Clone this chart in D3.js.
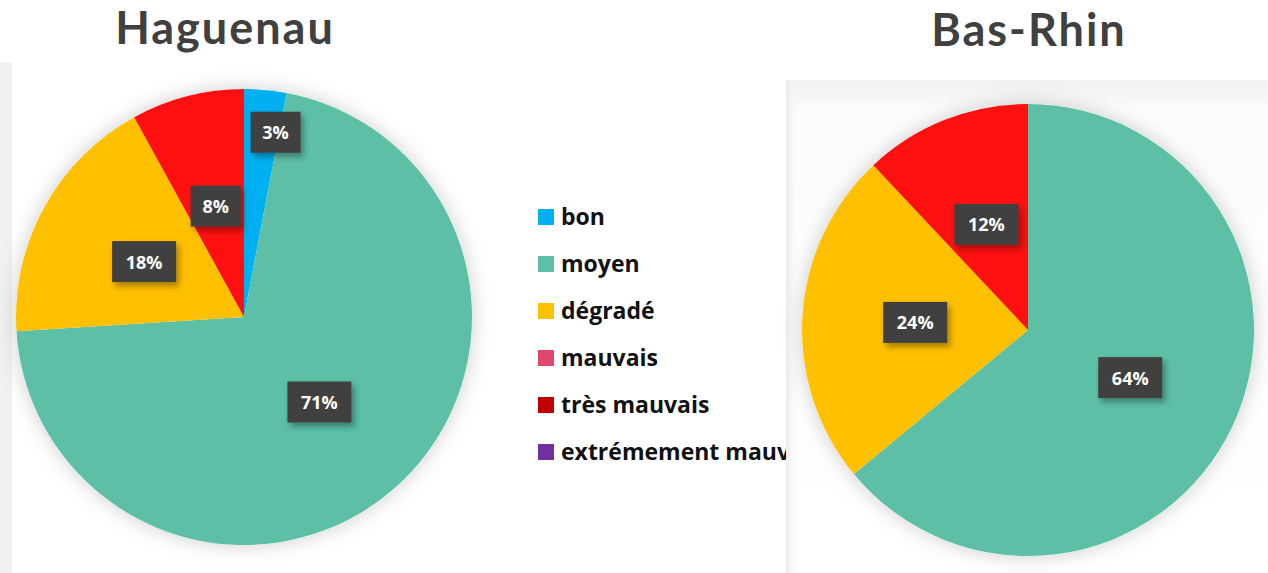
<!DOCTYPE html>
<html><head><meta charset="utf-8">
<script src="https://cdn.jsdelivr.net/npm/d3@7"></script>
<style>body{margin:0;background:#fff;overflow:hidden}svg{display:block}</style>
</head><body>
<script>
const categories = ["bon","moyen","dégradé","mauvais","très mauvais","extrémement mauvais"];
const legendColors = ["#00B0F0","#5CBFA6","#FFC000","#E0476A","#C00000","#7030A0"];
const sliceColors = ["#00B0F0","#5CBFA6","#FFC000","#E0476A","#FF1010","#7030A0"];
const haguenauValues = [3,71,18,0,8,0];
const basRhinValues = [0,64,24,0,12,0];
const titles = ["Haguenau","Bas-Rhin"];

const W=1268,H=573;
const svg=d3.select("body").append("svg").attr("width",W).attr("height",H);
const defs=svg.append("defs");
const f=defs.append("filter").attr("id","pshadow").attr("x","-20%").attr("y","-20%").attr("width","140%").attr("height","140%");
f.append("feDropShadow").attr("dx",0).attr("dy",0).attr("stdDeviation",10).attr("flood-color","#000").attr("flood-opacity",0.2);
const lf=defs.append("filter").attr("id","lshadow").attr("x","-30%").attr("y","-30%").attr("width","170%").attr("height","170%");
lf.append("feDropShadow").attr("dx",3).attr("dy",4).attr("stdDeviation",3).attr("flood-color","#000").attr("flood-opacity",0.35);
const bg=defs.append("linearGradient").attr("id","bgr").attr("x1",0).attr("x2",0).attr("y1",0).attr("y2",1);
bg.append("stop").attr("offset",0).attr("stop-color","#f0f0f0");
bg.append("stop").attr("offset",0.06).attr("stop-color","#fcfcfc");
bg.append("stop").attr("offset",1).attr("stop-color","#fff");
const bg2=defs.append("linearGradient").attr("id","bgl").attr("x1",0).attr("x2",1).attr("y1",0).attr("y2",0);
bg2.append("stop").attr("offset",0).attr("stop-color","#ebebeb");
bg2.append("stop").attr("offset",0.03).attr("stop-color","#fff").attr("stop-opacity",0);
svg.append("rect").attr("x",786).attr("y",80).attr("width",482).attr("height",493).attr("fill","url(#bgr)");
svg.append("rect").attr("x",786).attr("y",80).attr("width",482).attr("height",493).attr("fill","url(#bgl)");
svg.append("rect").attr("x",0).attr("y",62).attr("width",12).attr("height",511).attr("fill","#f1f1f1");

const pies=[
  {values:haguenauValues,cx:244,cy:317,r:228,title:titles[0],tx:225,ty:44},
  {values:basRhinValues,cx:1028,cy:330,r:226,title:titles[1],tx:1029,ty:46}
];
const pieGen=d3.pie().sort(null).value(d=>d.v);
pies.forEach(p=>{
  const data=categories.map((c,i)=>({c,i,v:p.values[i]}));
  const arcs=pieGen(data).filter(a=>a.data.v>0);
  const g=svg.append("g").attr("transform",`translate(${p.cx},${p.cy})`);
  const arc=d3.arc().innerRadius(0).outerRadius(p.r);
  g.append("circle").attr("r",p.r).attr("fill","#fff").attr("filter","url(#pshadow)");
  g.selectAll("path").data(arcs).join("path").attr("d",arc).attr("fill",d=>sliceColors[d.data.i]);
  const lab=g.selectAll("g.lab").data(arcs).join("g").attr("class","lab")
    .attr("transform",d=>{
      const small=(d.endAngle-d.startAngle)<0.25;
      const rr=p.r*(small?0.82:0.5);
      const a=small?(d.startAngle*0.1+d.endAngle*0.9):(d.startAngle+d.endAngle)/2;
      return `translate(${Math.sin(a)*rr},${-Math.cos(a)*rr})`;});
  lab.append("rect").attr("x",d=>String(d.data.v).length>1?-32:-25).attr("y",-21)
    .attr("width",d=>String(d.data.v).length>1?64:50).attr("height",41)
    .attr("fill","#404040").attr("filter","url(#lshadow)");
  lab.append("text").attr("text-anchor","middle").attr("dy","0.36em")
    .attr("font-family","Open Sans, sans-serif").attr("font-weight","bold").attr("font-size",18)
    .attr("fill","#fff").text(d=>d.data.v+"%");
  svg.append("text").attr("x",p.tx).attr("y",p.ty).attr("text-anchor","middle")
    .attr("font-family","Lato, sans-serif").attr("font-weight","bold").attr("font-size",45)
    .attr("letter-spacing",2).attr("fill","#404040").text(p.title);
});

const clip=defs.append("clipPath").attr("id","lc");
clip.append("rect").attr("x",520).attr("y",180).attr("width",266).attr("height",300);
const leg=svg.append("g").attr("clip-path","url(#lc)");
const ly=d3.scalePoint().domain(categories).range([217,452]);
const items=leg.selectAll("g").data(categories).join("g").attr("transform",d=>`translate(538,${ly(d)})`);
items.append("rect").attr("x",0).attr("y",-8).attr("width",16).attr("height",16).attr("fill",(d,i)=>legendColors[i]);
items.append("text").attr("x",23).attr("dy","0.35em").attr("font-family","Open Sans, sans-serif")
  .attr("font-weight","bold").attr("font-size",23).attr("fill","#111").text(d=>d);
</script>
</body></html>
